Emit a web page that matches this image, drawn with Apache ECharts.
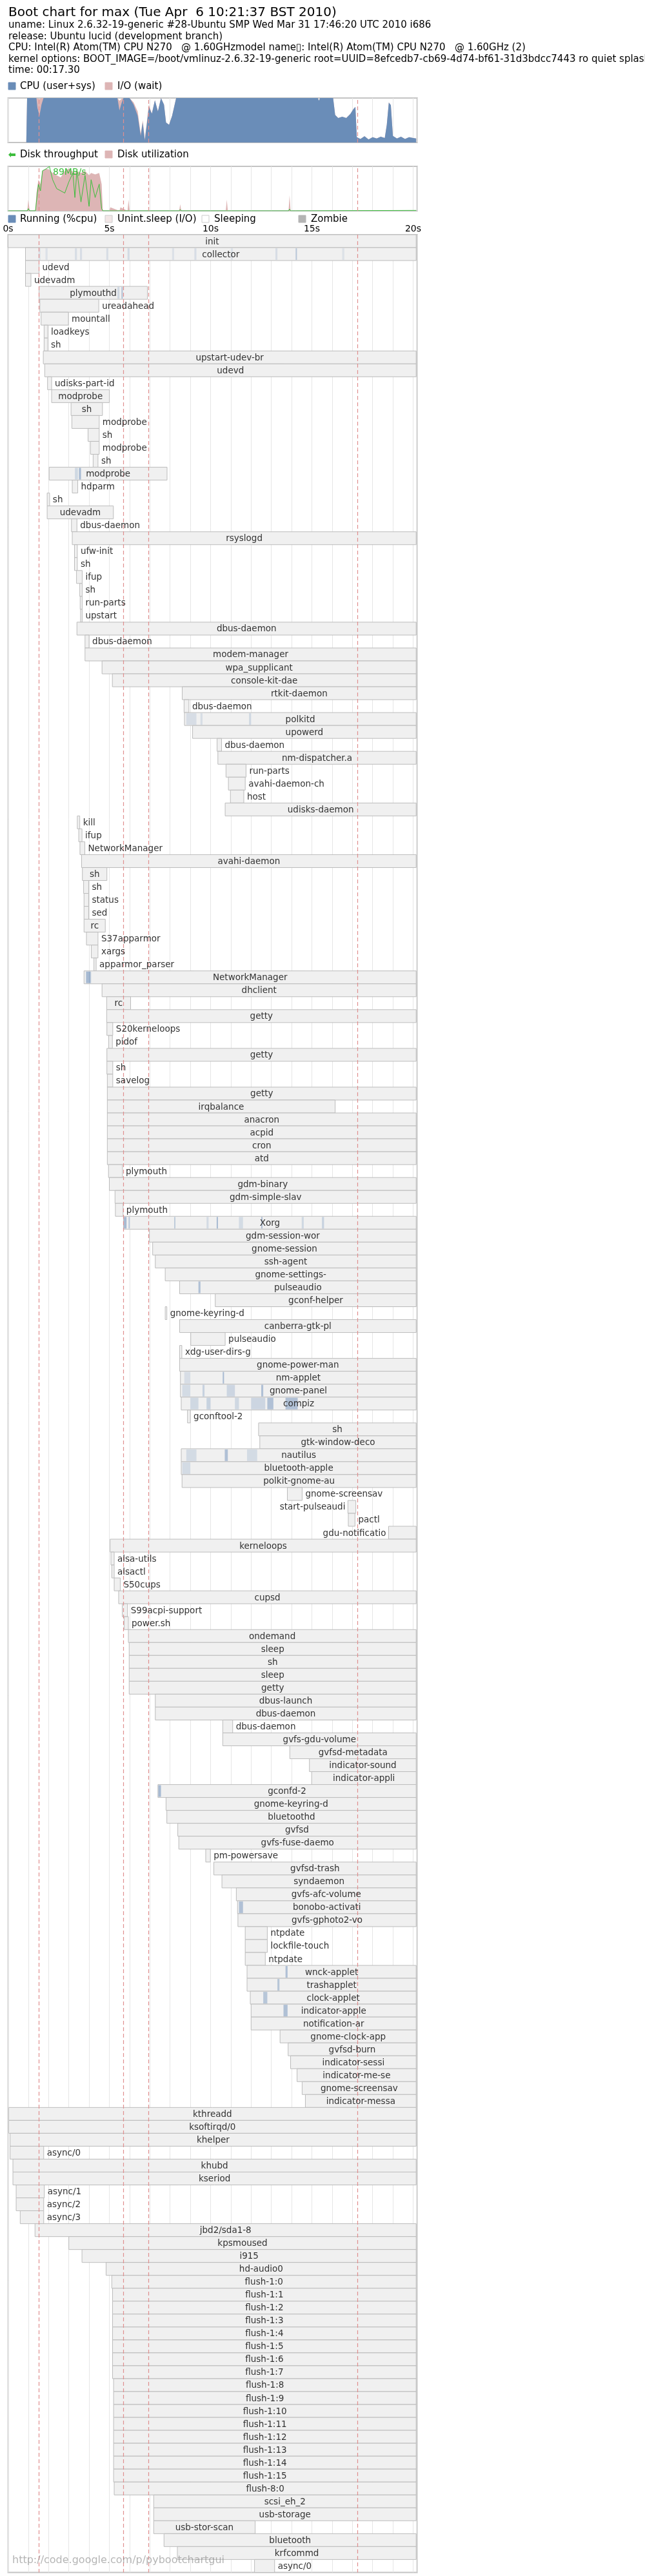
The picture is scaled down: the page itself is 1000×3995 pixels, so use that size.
<!DOCTYPE html>
<html>
<head>
<meta charset="utf-8">
<script src="https://cdn.jsdelivr.net/npm/echarts@6/dist/echarts.min.js"></script>
<style>
  html, body { margin: 0; padding: 0; background: #fff; }
  #chart { width: 1000px; height: 3995px; }
</style>
</head>
<body>
<div id="chart"></div>
<script>
// ---- data ----
var END = 20.15;

// CPU samples: time (s), cpu user+sys (%), io wait (%)
var cpuTimes = [0, 0.9, 0.94, 1.4, 1.45, 1.55, 1.65, 1.75, 5.4, 5.5, 5.6, 5.7, 6.0, 6.2, 6.4, 6.55, 6.65, 6.75, 6.85, 6.95, 7.1, 7.25, 7.4, 7.55, 7.7, 7.8, 7.95, 8.1, 8.3, 8.4, 15.3, 15.35, 15.4, 16.05, 16.15, 16.3, 16.5, 16.7, 16.9, 17.05, 17.15, 17.22, 17.4, 17.6, 17.8, 18.0, 18.2, 18.4, 18.6, 18.7, 18.8, 18.9, 19.0, 19.2, 19.4, 19.6, 19.8, 20.0, 20.15];
var cpuUser  = [0, 0, 100, 100, 78, 60, 85, 100, 100, 72, 88, 100, 100, 85, 60, 15, 45, 5, 40, 80, 65, 95, 70, 100, 85, 45, 40, 60, 100, 100, 100, 94, 100, 100, 62, 55, 58, 55, 64, 75, 80, 12, 8, 14, 7, 12, 9, 13, 10, 40, 90, 84, 15, 9, 13, 8, 12, 10, 9];
var cpuIo    = [0, 0, 0, 0, 20, 38, 15, 0, 0, 22, 10, 0, 0, 5, 10, 5, 5, 3, 5, 5, 0, 0, 0, 0, 0, 0, 0, 0, 0, 0, 0, 0, 0, 0, 0, 0, 0, 0, 0, 0, 0, 0, 0, 0, 0, 0, 0, 0, 0, 0, 0, 0, 0, 0, 0, 0, 0, 0, 0];

// Disk samples: time (s), utilization (%), throughput (% of 89MB/s)
var diskTimes = [0, 0.95, 1.0, 1.07, 1.35, 1.4, 1.5, 1.6, 1.7, 1.9, 2.04, 2.2, 2.4, 2.6, 2.8, 3.0, 3.2, 3.3, 3.4, 3.6, 3.8, 4.0, 4.1, 4.3, 4.5, 4.62, 4.68, 5.0, 5.05, 5.5, 5.55, 5.9, 5.95, 6.0, 8.45, 8.5, 8.55, 10.75, 10.8, 10.85, 13.85, 13.9, 13.95, 14.2, 20.15];
var diskUtil  = [0, 0, 25, 0, 0, 40, 70, 60, 90, 95, 92, 85, 80, 75, 90, 95, 88, 85, 90, 85, 90, 80, 85, 82, 85, 60, 0, 0, 8, 0, 8, 0, 25, 0, 0, 15, 0, 0, 25, 0, 0, 35, 0, 0, 0];
var diskRate  = [0, 0, 5, 0, 0, 20, 60, 45, 90, 95, 100, 70, 50, 45, 40, 65, 85, 30, 90, 20, 80, 10, 70, 30, 60, 5, 0, 0, 0, 0, 0, 0, 2, 0, 0, 3, 0, 0, 2, 0, 0, 4, 0, 0, 1];
var diskPeakLabel = '89MB/s';

// process rows, top to bottom
var procNames = ['init', 'collector', 'udevd', 'udevadm', 'plymouthd', 'ureadahead', 'mountall', 'loadkeys', 'sh', 'upstart-udev-br',
  'udevd', 'udisks-part-id', 'modprobe', 'sh', 'modprobe', 'sh', 'modprobe', 'sh', 'modprobe', 'hdparm',
  'sh', 'udevadm', 'dbus-daemon', 'rsyslogd', 'ufw-init', 'sh', 'ifup', 'sh', 'run-parts', 'upstart',
  'dbus-daemon', 'dbus-daemon', 'modem-manager', 'wpa_supplicant', 'console-kit-dae', 'rtkit-daemon', 'dbus-daemon', 'polkitd', 'upowerd', 'dbus-daemon',
  'nm-dispatcher.a', 'run-parts', 'avahi-daemon-ch', 'host', 'udisks-daemon', 'kill', 'ifup', 'NetworkManager', 'avahi-daemon', 'sh',
  'sh', 'status', 'sed', 'rc', 'S37apparmor', 'xargs', 'apparmor_parser', 'NetworkManager', 'dhclient', 'rc',
  'getty', 'S20kerneloops', 'pidof', 'getty', 'sh', 'savelog', 'getty', 'irqbalance', 'anacron', 'acpid',
  'cron', 'atd', 'plymouth', 'gdm-binary', 'gdm-simple-slav', 'plymouth', 'Xorg', 'gdm-session-wor', 'gnome-session', 'ssh-agent',
  'gnome-settings-', 'pulseaudio', 'gconf-helper', 'gnome-keyring-d', 'canberra-gtk-pl', 'pulseaudio', 'xdg-user-dirs-g', 'gnome-power-man', 'nm-applet', 'gnome-panel',
  'compiz', 'gconftool-2', 'sh', 'gtk-window-deco', 'nautilus', 'bluetooth-apple', 'polkit-gnome-au', 'gnome-screensav', 'start-pulseaudi', 'pactl',
  'gdu-notificatio', 'kerneloops', 'alsa-utils', 'alsactl', 'S50cups', 'cupsd', 'S99acpi-support', 'power.sh', 'ondemand', 'sleep',
  'sh', 'sleep', 'getty', 'dbus-launch', 'dbus-daemon', 'dbus-daemon', 'gvfs-gdu-volume', 'gvfsd-metadata', 'indicator-sound', 'indicator-appli',
  'gconfd-2', 'gnome-keyring-d', 'bluetoothd', 'gvfsd', 'gvfs-fuse-daemo', 'pm-powersave', 'gvfsd-trash', 'syndaemon', 'gvfs-afc-volume', 'bonobo-activati',
  'gvfs-gphoto2-vo', 'ntpdate', 'lockfile-touch', 'ntpdate', 'wnck-applet', 'trashapplet', 'clock-applet', 'indicator-apple', 'notification-ar', 'gnome-clock-app',
  'gvfsd-burn', 'indicator-sessi', 'indicator-me-se', 'gnome-screensav', 'indicator-messa', 'kthreadd', 'ksoftirqd/0', 'khelper', 'async/0', 'khubd',
  'kseriod', 'async/1', 'async/2', 'async/3', 'jbd2/sda1-8', 'kpsmoused', 'i915', 'hd-audio0', 'flush-1:0', 'flush-1:1',
  'flush-1:2', 'flush-1:3', 'flush-1:4', 'flush-1:5', 'flush-1:6', 'flush-1:7', 'flush-1:8', 'flush-1:9', 'flush-1:10', 'flush-1:11',
  'flush-1:12', 'flush-1:13', 'flush-1:14', 'flush-1:15', 'flush-8:0', 'scsi_eh_2', 'usb-storage', 'usb-stor-scan', 'bluetooth', 'krfcommd',
  'async/0'];
var procStart = [0, 0.86, 0.86, 0.86, 1.53, 1.57, 1.63, 1.78, 1.78, 1.74,
  1.81, 1.95, 2.15, 3.11, 3.15, 3.95, 4.07, 4.2, 2.03, 3.17,
  1.93, 1.93, 3.13, 3.17, 3.28, 3.28, 3.38, 3.54, 3.56, 3.58,
  3.4, 3.8, 3.8, 4.64, 5.15, 8.6, 8.69, 8.71, 9.11, 10.32,
  10.36, 10.76, 10.88, 10.98, 10.72, 3.42, 3.49, 3.55, 3.63, 3.67,
  3.73, 3.75, 3.75, 3.75, 3.87, 4.11, 4.24, 3.75, 4.64, 4.87,
  4.87, 4.88, 4.97, 4.88, 4.88, 4.9, 4.9, 4.9, 4.9, 4.9,
  4.9, 4.9, 4.96, 5.0, 5.28, 5.3, 5.7, 6.98, 7.14, 7.27,
  7.76, 8.47, 10.23, 7.76, 8.47, 9.02, 8.47, 8.47, 8.51, 8.51,
  8.55, 8.86, 12.37, 12.43, 8.55, 8.55, 8.59, 13.79, 16.78, 16.8,
  18.79, 5.04, 5.08, 5.12, 5.24, 5.46, 5.64, 5.73, 5.94, 5.98,
  5.98, 5.98, 5.98, 7.27, 7.27, 10.6, 10.6, 13.91, 14.88, 14.99,
  7.4, 7.8, 7.84, 8.38, 8.43, 9.76, 10.16, 10.56, 11.27, 11.33,
  11.35, 11.71, 11.71, 11.71, 11.8, 11.8, 11.96, 12.0, 12.0, 13.43,
  13.83, 13.95, 14.27, 14.52, 14.68, 0.03, 0.03, 0.1, 0.1, 0.24,
  0.24, 0.4, 0.4, 0.6, 1.33, 3.0, 3.65, 4.84, 5.12, 5.16,
  5.16, 5.16, 5.16, 5.16, 5.16, 5.16, 5.21, 5.21, 5.21, 5.21,
  5.21, 5.21, 5.21, 5.21, 5.24, 7.19, 7.19, 7.19, 7.7, 8.36,
  12.17];
var procEnd = [END, END, 1.53, 1.13, 6.88, 4.48, 2.98, 1.96, 1.96, END,
  END, 2.15, 5.0, 4.66, 4.5, 4.5, 4.5, 4.44, 7.85, 3.44,
  2.05, 5.2, 3.4, END, 3.42, 3.42, 3.66, 3.66, 3.66, 3.66,
  END, 4.0, END, END, END, END, 8.93, END, END, 10.54,
  END, 11.75, 11.71, 11.64, END, 3.54, 3.65, 3.79, END, 4.88,
  3.98, 3.98, 3.98, 4.8, 4.44, 4.44, 4.35, END, END, 6.05,
  END, 5.17, 5.15, END, 5.17, 5.17, END, 16.15, END, END,
  END, END, 5.65, END, END, 5.68, END, END, END, END,
  END, END, END, 7.84, END, 10.72, 8.58, END, END, END,
  END, 9.0, END, END, END, END, END, 14.52, 17.17, 17.13,
  END, END, 5.24, 5.24, 5.54, END, 5.9, 5.94, END, END,
  END, END, END, END, END, 11.09, END, END, END, END,
  END, END, END, END, END, 9.99, END, END, END, END,
  END, 12.8, 12.8, 12.7, END, END, END, END, END, END,
  END, END, END, END, END, END, END, END, 1.76, END,
  END, 1.79, 1.76, 1.76, END, END, END, END, END, END,
  END, END, END, END, END, END, END, END, END, END,
  END, END, END, END, END, END, END, 12.2, END, END,
  13.16];
var rightLabelRows = [5];          // ureadahead: label drawn beside its bar

// running-cpu stripes inside bars: row, from (s), to (s), strength 0..1
var busyRow   = [1, 1, 1, 1, 1, 1, 1, 1, 1, 1, 1, 1, 4, 4, 18, 18, 57, 57, 37, 37, 37, 76, 76, 76, 76, 76, 76, 76, 76, 76, 88, 88, 89, 89, 89, 89, 90, 90, 90, 90, 90, 90, 94, 94, 94, 95, 134, 135, 136, 137, 129, 120, 81];
var busyFrom  = [1.5, 1.85, 3.3, 3.55, 4.85, 5.9, 8.1, 9.2, 11.0, 13.2, 14.2, 16.5, 5.4, 5.6, 3.3, 3.5, 3.85, 4.0, 8.8, 9.5, 11.9, 5.72, 5.95, 8.2, 9.8, 10.3, 11.4, 12.5, 14.5, 15.5, 8.7, 10.6, 8.6, 9.6, 10.8, 12.5, 9.0, 9.8, 11.2, 12.0, 12.8, 13.7, 8.8, 10.7, 11.8, 8.6, 13.7, 13.3, 12.6, 13.6, 11.4, 7.42, 9.4];
var busyTo    = [1.6, 1.95, 3.4, 3.65, 4.95, 6.0, 8.2, 9.3, 11.1, 13.3, 14.25, 16.6, 5.5, 5.65, 3.45, 3.6, 4.05, 4.1, 9.3, 9.6, 12.0, 5.85, 6.0, 8.25, 9.9, 10.35, 11.6, 12.55, 14.6, 15.6, 9.0, 10.65, 9.0, 9.7, 11.2, 12.6, 9.4, 10.0, 11.4, 12.7, 13.1, 14.3, 9.3, 10.85, 12.3, 9.0, 13.8, 13.4, 12.8, 13.8, 11.6, 7.55, 9.5];
var busyLevel = [0.25, 0.25, 0.3, 0.3, 0.3, 0.35, 0.25, 0.3, 0.25, 0.3, 0.7, 0.25, 0.4, 0.8, 0.4, 0.9, 0.9, 0.6, 0.3, 0.3, 0.4, 0.9, 0.7, 0.6, 0.35, 0.9, 0.35, 0.8, 0.4, 0.5, 0.3, 0.9, 0.35, 0.5, 0.45, 0.8, 0.4, 0.5, 0.4, 0.45, 0.8, 0.8, 0.35, 0.8, 0.35, 0.35, 0.8, 0.7, 0.7, 0.8, 0.8, 0.9, 0.8];

var bootMarks = [1.52, 5.68, 6.95, 17.24];  // red dashed event lines
var tickLabels = ['0s', '5s', '10s', '15s', '20s'];

// ---- layout ----
var LEFT = 12.5, PX_PER_S = 31.4, XMAX = 20.2;
var W = XMAX * PX_PER_S;
var ROWS = procNames.length, ROW_H = 20.03, PTOP = 364;
var FONT = '"DejaVu Sans", Verdana, sans-serif';
var LABEL_FONT = '13.5px ' + FONT;
var CPU_C = '#6a8db8', IO_C = '#ddb5b5', DISK_C = '#3cbd3c';

var chart = echarts.init(document.getElementById('chart'), null, { renderer: 'canvas' });

var measure = document.createElement('canvas').getContext('2d');
measure.font = LABEL_FONT;

function pairs(ts, vs) { return ts.map(function (t, i) { return [t, vs[i]]; }); }
var cpuTotal = cpuUser.map(function (v, i) { return v + cpuIo[i]; });

var procData = procNames.map(function (n, i) { return [procStart[i], procEnd[i], i]; });
var busyData = busyRow.map(function (r, i) { return [busyFrom[i], busyTo[i], r, busyLevel[i]]; });

function box(api) {
  var p0 = api.coord([api.value(0), api.value(2)]), p1 = api.coord([api.value(1), api.value(2) + 1]);
  return { x: p0[0], y: p0[1], w: Math.max(p1[0] - p0[0], 2), h: p1[1] - p0[1] };
}

function renderBar(params, api) {
  var b = box(api);
  return { type: 'rect', shape: { x: b.x, y: b.y, width: b.w, height: b.h },
    style: { fill: '#f0f0f0', stroke: '#bcbcbc', lineWidth: 1 } };
}

function renderBusy(params, api) {
  var b = box(api);
  return { type: 'rect', shape: { x: b.x, y: b.y + 1, width: b.w, height: b.h - 2 },
    style: { fill: CPU_C, opacity: api.value(3) * 0.6 } };
}

function renderLabel(params, api) {
  var b = box(api);
  var name = procNames[params.dataIndex];
  var tw = measure.measureText(name).width;
  var boxRight = api.coord([XMAX, 0])[0];
  var tx, align;
  if (tw + 12 < b.w && rightLabelRows.indexOf(params.dataIndex) < 0) {
    tx = b.x + b.w / 2; align = 'center';
  } else if (b.x + b.w + 5 + tw > boxRight) {
    tx = b.x - 4; align = 'right';
  } else {
    tx = b.x + b.w + 5; align = 'left';
  }
  return { type: 'text', x: tx, y: b.y + b.h / 2 + 1,
    style: { text: name, font: LABEL_FONT, fill: '#333', align: align, verticalAlign: 'middle' } };
}

function marks(z) {
  return {
    type: 'line', data: [], z: z, silent: true,
    markLine: { silent: true, symbol: 'none', label: { show: false },
      lineStyle: { color: '#e08f8f', type: [6, 4], width: 1.2 },
      data: bootMarks.map(function (t) { return { xAxis: t }; }) }
  };
}

var xBase = {
  type: 'value', min: 0, max: XMAX, interval: 1,
  axisLine: { show: false }, axisTick: { show: false },
  splitLine: { show: true, lineStyle: { color: '#e6e6e6', width: 1 } }
};

var legendItems = [];
function sq(x, y, fill, stroke) {
  legendItems.push({ type: 'rect', shape: { x: x, y: y, width: 11, height: 11 },
    style: { fill: fill, stroke: stroke || fill, lineWidth: 1 } });
}
function txt(x, y, s, size, color) {
  legendItems.push({ type: 'text', x: x, y: y,
    style: { text: s, font: size + 'px ' + FONT, fill: color || '#000', verticalAlign: 'middle' } });
}

txt(13, 20, 'Boot chart for max (Tue Apr  6 10:21:37 BST 2010)', 20);
txt(13, 39, 'uname: Linux 2.6.32-19-generic #28-Ubuntu SMP Wed Mar 31 17:46:20 UTC 2010 i686', 15);
txt(13, 57, 'release: Ubuntu lucid (development branch)', 15);
txt(13, 74, 'CPU: Intel(R) Atom(TM) CPU N270   @ 1.60GHzmodel name\u25AF: Intel(R) Atom(TM) CPU N270   @ 1.60GHz (2)', 15);
txt(13, 92, 'kernel options: BOOT_IMAGE=/boot/vmlinuz-2.6.32-19-generic root=UUID=8efcedb7-cb69-4d74-bf61-31d3bdcc7443 ro quiet splash', 15);
txt(13, 109, 'time: 00:17.30', 15);

sq(13, 128, CPU_C); txt(31, 134, 'CPU (user+sys)', 15);
sq(163, 128, IO_C); txt(182, 134, 'I/O (wait)', 15);

legendItems.push({ type: 'polygon', shape: { points: [[13, 240], [17, 236], [17, 238], [24, 238], [24, 242], [17, 242], [17, 244]] },
  style: { fill: DISK_C } });
txt(31, 240, 'Disk throughput', 15);
sq(163, 234, IO_C); txt(182, 240, 'Disk utilization', 15);

sq(13, 334, CPU_C); txt(31, 340, 'Running (%cpu)', 15);
sq(163, 334, '#f2e6e6', '#cccccc'); txt(182, 340, 'Unint.sleep (I/O)', 15);
sq(313, 334, '#ffffff', '#cccccc'); txt(332, 340, 'Sleeping', 15);
sq(463, 334, '#b4b4b4'); txt(482, 340, 'Zombie', 15);

legendItems.push({ type: 'text', x: 19, y: 3971, z: 100,
  style: { text: 'http://code.google.com/p/pybootchartgui', font: '16px ' + FONT, fill: 'rgba(120,120,120,0.55)', verticalAlign: 'middle' } });

var option = {
  animation: false,
  backgroundColor: '#fff',
  graphic: legendItems,
  grid: [
    { left: LEFT, top: 152, width: W, height: 69, show: true, borderColor: '#c4c4c4', borderWidth: 2, backgroundColor: '#fff' },
    { left: LEFT, top: 258, width: W, height: 69, show: true, borderColor: '#c4c4c4', borderWidth: 2, backgroundColor: '#fff' },
    { left: LEFT, top: PTOP, width: W, height: ROWS * ROW_H, show: true, borderColor: '#c4c4c4', borderWidth: 2, backgroundColor: '#fff' }
  ],
  xAxis: [
    Object.assign({ gridIndex: 0, axisLabel: { show: false } }, xBase),
    Object.assign({ gridIndex: 1, axisLabel: { show: false } }, xBase),
    Object.assign({ gridIndex: 2, position: 'top',
      axisLabel: { show: true, margin: 2, fontFamily: 'DejaVu Sans', fontSize: 14, color: '#000',
        formatter: function (v) { return (v % 5 === 0) ? tickLabels[v / 5] : ''; } } }, xBase)
  ],
  yAxis: [
    { gridIndex: 0, type: 'value', min: 0, max: 100, show: false },
    { gridIndex: 1, type: 'value', min: 0, max: 100, show: false },
    { gridIndex: 2, type: 'value', min: 0, max: ROWS, inverse: true, show: false }
  ],
  series: [
    Object.assign(marks(1), { xAxisIndex: 0, yAxisIndex: 0 }),
    { type: 'line', xAxisIndex: 0, yAxisIndex: 0, z: 2, symbol: 'none',
      lineStyle: { width: 0 }, areaStyle: { color: IO_C, opacity: 1 }, data: pairs(cpuTimes, cpuTotal) },
    { type: 'line', xAxisIndex: 0, yAxisIndex: 0, z: 3, symbol: 'none',
      lineStyle: { width: 0 }, areaStyle: { color: CPU_C, opacity: 1 }, data: pairs(cpuTimes, cpuUser) },

    { type: 'line', xAxisIndex: 1, yAxisIndex: 1, z: 2, symbol: 'none',
      lineStyle: { width: 0 }, areaStyle: { color: IO_C, opacity: 1 }, data: pairs(diskTimes, diskUtil) },
    Object.assign(marks(3), { xAxisIndex: 1, yAxisIndex: 1 }),
    { type: 'line', xAxisIndex: 1, yAxisIndex: 1, z: 4, symbol: 'none',
      lineStyle: { width: 1, color: DISK_C }, data: pairs(diskTimes, diskRate),
      markPoint: { symbol: 'rect', symbolSize: 1, itemStyle: { color: 'transparent' },
        label: { show: true, formatter: diskPeakLabel, color: DISK_C, fontFamily: 'DejaVu Sans', fontSize: 14, position: 'right', offset: [0, 9] },
        data: [{ coord: [2.04, 100] }] } },

    Object.assign(marks(1), { xAxisIndex: 2, yAxisIndex: 2 }),
    { type: 'custom', xAxisIndex: 2, yAxisIndex: 2, z: 2, renderItem: renderBar,
      encode: { x: [0, 1], y: 2 }, data: procData, clip: false },
    { type: 'custom', xAxisIndex: 2, yAxisIndex: 2, z: 3, renderItem: renderBusy,
      encode: { x: [0, 1], y: 2 }, data: busyData, clip: false },
    { type: 'custom', xAxisIndex: 2, yAxisIndex: 2, z: 5, renderItem: renderLabel,
      encode: { x: [0, 1], y: 2 }, data: procData, clip: false }
  ]
};
chart.setOption(option);
</script>
</body>
</html>
